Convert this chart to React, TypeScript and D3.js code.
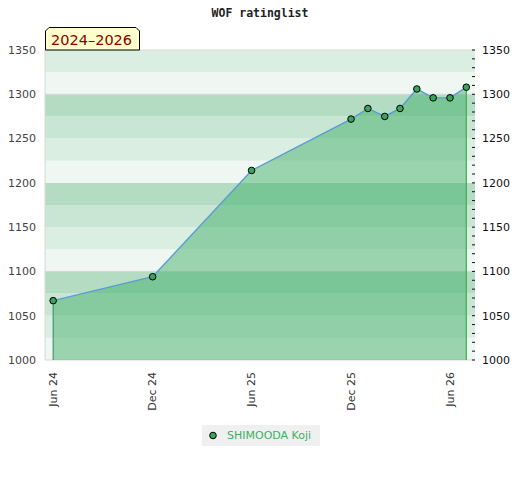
import * as d3 from 'd3';

const dates = ['2024-06-01', '2024-12-01', '2025-06-01', '2025-12-01', '2026-01-01', '2026-02-01', '2026-03-01', '2026-04-01', '2026-05-01', '2026-06-01', '2026-07-01'];
const ratings = [1067, 1094, 1214, 1272, 1284, 1275, 1284, 1306, 1296, 1296, 1308];
const yTicks = [1000, 1050, 1100, 1150, 1200, 1250, 1300, 1350];
const xTicks = ['2024-06-01', '2024-12-01', '2025-06-01', '2025-12-01', '2026-06-01'];
const playerName = 'SHIMOODA Koji';
const periodLabel = '2024–2026';

const bandColors = ['#eef7f1', '#dbeee2', '#c8e6d3', '#b3dcc2'];

const W = 520;
const H = 480;
const plot = { left: 45, right: 475, top: 50, bottom: 360 };

const App = () => {
  const parse = d3.utcParse('%Y-%m-%d');
  const points = dates.map((d, i) => ({ date: parse(d) as Date, value: ratings[i] }));

  const x = d3
    .scaleUtc()
    .domain([parse('2024-05-17') as Date, parse('2026-07-17') as Date])
    .range([plot.left, plot.right]);

  const y = d3.scaleLinear().domain([1000, 1350]).range([plot.bottom, plot.top]);

  const bands = d3.range(1000, 1350, 25);
  const minor = d3.range(1000, 1351, 10);
  const fmt = d3.utcFormat('%b %y');

  const line = d3
    .line<{ date: Date; value: number }>()
    .x((d) => x(d.date))
    .y((d) => y(d.value));

  const area = d3
    .area<{ date: Date; value: number }>()
    .x((d) => x(d.date))
    .y0(y(1000))
    .y1((d) => y(d.value));

  const first = points[0];
  const last = points[points.length - 1];

  return (
    <svg width={W} height={H} style={{ display: 'block', margin: '-8px' }} fontFamily="DejaVu Sans, sans-serif">
      <rect width={W} height={H} fill="#fff" />
      <text x={260} y={17} textAnchor="middle" fontFamily="DejaVu Sans Mono, monospace" fontWeight="bold" fontSize={11.5} fill="#222">
        WOF ratinglist
      </text>

      {/* background bands */}
      {bands.map((b) => (
        <rect
          key={b}
          x={plot.left}
          y={y(b + 25)}
          width={plot.right - plot.left}
          height={y(b) - y(b + 25)}
          fill={bandColors[Math.floor((b - 1000) / 25) % 4]}
        />
      ))}

      {/* frame */}
      <line x1={plot.left} x2={plot.right} y1={plot.top} y2={plot.top} stroke="#d8d8d8" />
      <line x1={plot.left} x2={plot.right} y1={plot.bottom} y2={plot.bottom} stroke="#d8d8d8" />
      <line x1={plot.left} x2={plot.left} y1={plot.top} y2={plot.bottom} stroke="#d8d8d8" />
      {[1100, 1300].map((v) => (
        <line key={v} x1={plot.left} x2={plot.right} y1={y(v)} y2={y(v)} stroke="#d0d0d0" strokeWidth={0.8} />
      ))}

      <path d={area(points) || ''} fill="rgb(61,172,101)" fillOpacity={0.475} />
      <line x1={x(first.date)} x2={x(first.date)} y1={y(first.value)} y2={plot.bottom} stroke="#2e8b57" strokeWidth={1} />
      <line x1={x(last.date)} x2={x(last.date)} y1={y(last.value)} y2={plot.bottom} stroke="#3cb04f" strokeWidth={1.2} />
      <path d={line(points) || ''} fill="none" stroke="#5b9bd5" strokeWidth={1.4} />
      {points.map((p, i) => (
        <circle key={i} cx={x(p.date)} cy={y(p.value)} r={3.3} fill="#3aa35c" stroke="#000" strokeWidth={1} />
      ))}

      {/* left axis labels */}
      {yTicks.map((v) => (
        <text key={'l' + v} x={36} y={y(v)} dy="0.35em" textAnchor="end" fontSize={11} fill="#444">
          {v}
        </text>
      ))}
      {/* right axis */}
      {minor.map((v) => (
        <line key={'m' + v} x1={472} x2={475} y1={y(v)} y2={y(v)} stroke="#111" strokeWidth={1} />
      ))}
      {yTicks.map((v) => (
        <text key={'r' + v} x={482} y={y(v)} dy="0.35em" textAnchor="start" fontSize={11} fill="#111">
          {v}
        </text>
      ))}

      {/* x axis labels */}
      {xTicks.map((t) => {
        const tx = x(parse(t) as Date);
        return (
          <text
            key={t}
            transform={`translate(${tx},372) rotate(-90)`}
            dy="0.35em"
            textAnchor="end"
            fontSize={11}
            fill="#333"
          >
            {fmt(parse(t) as Date)}
          </text>
        );
      })}

      {/* period label */}
      <path d="M45.5,50 L45.5,31 L49,27.5 L136,27.5 L139.5,31 L139.5,50 Z" fill="#ffffcc" stroke="#000" strokeWidth={1} />
      <text x={51} y={45} fontSize={14.5} fill="#8b0000">
        {periodLabel}
      </text>

      {/* legend */}
      <rect x={202} y={425} width={118} height={21} fill="#f0f0f0" />
      <circle cx={213} cy={435.5} r={3.3} fill="#3aa35c" stroke="#000" strokeWidth={1} />
      <text x={227} y={435.5} dy="0.35em" fontSize={11} fill="#3cb060">
        {playerName}
      </text>
    </svg>
  );
};

export default App;
